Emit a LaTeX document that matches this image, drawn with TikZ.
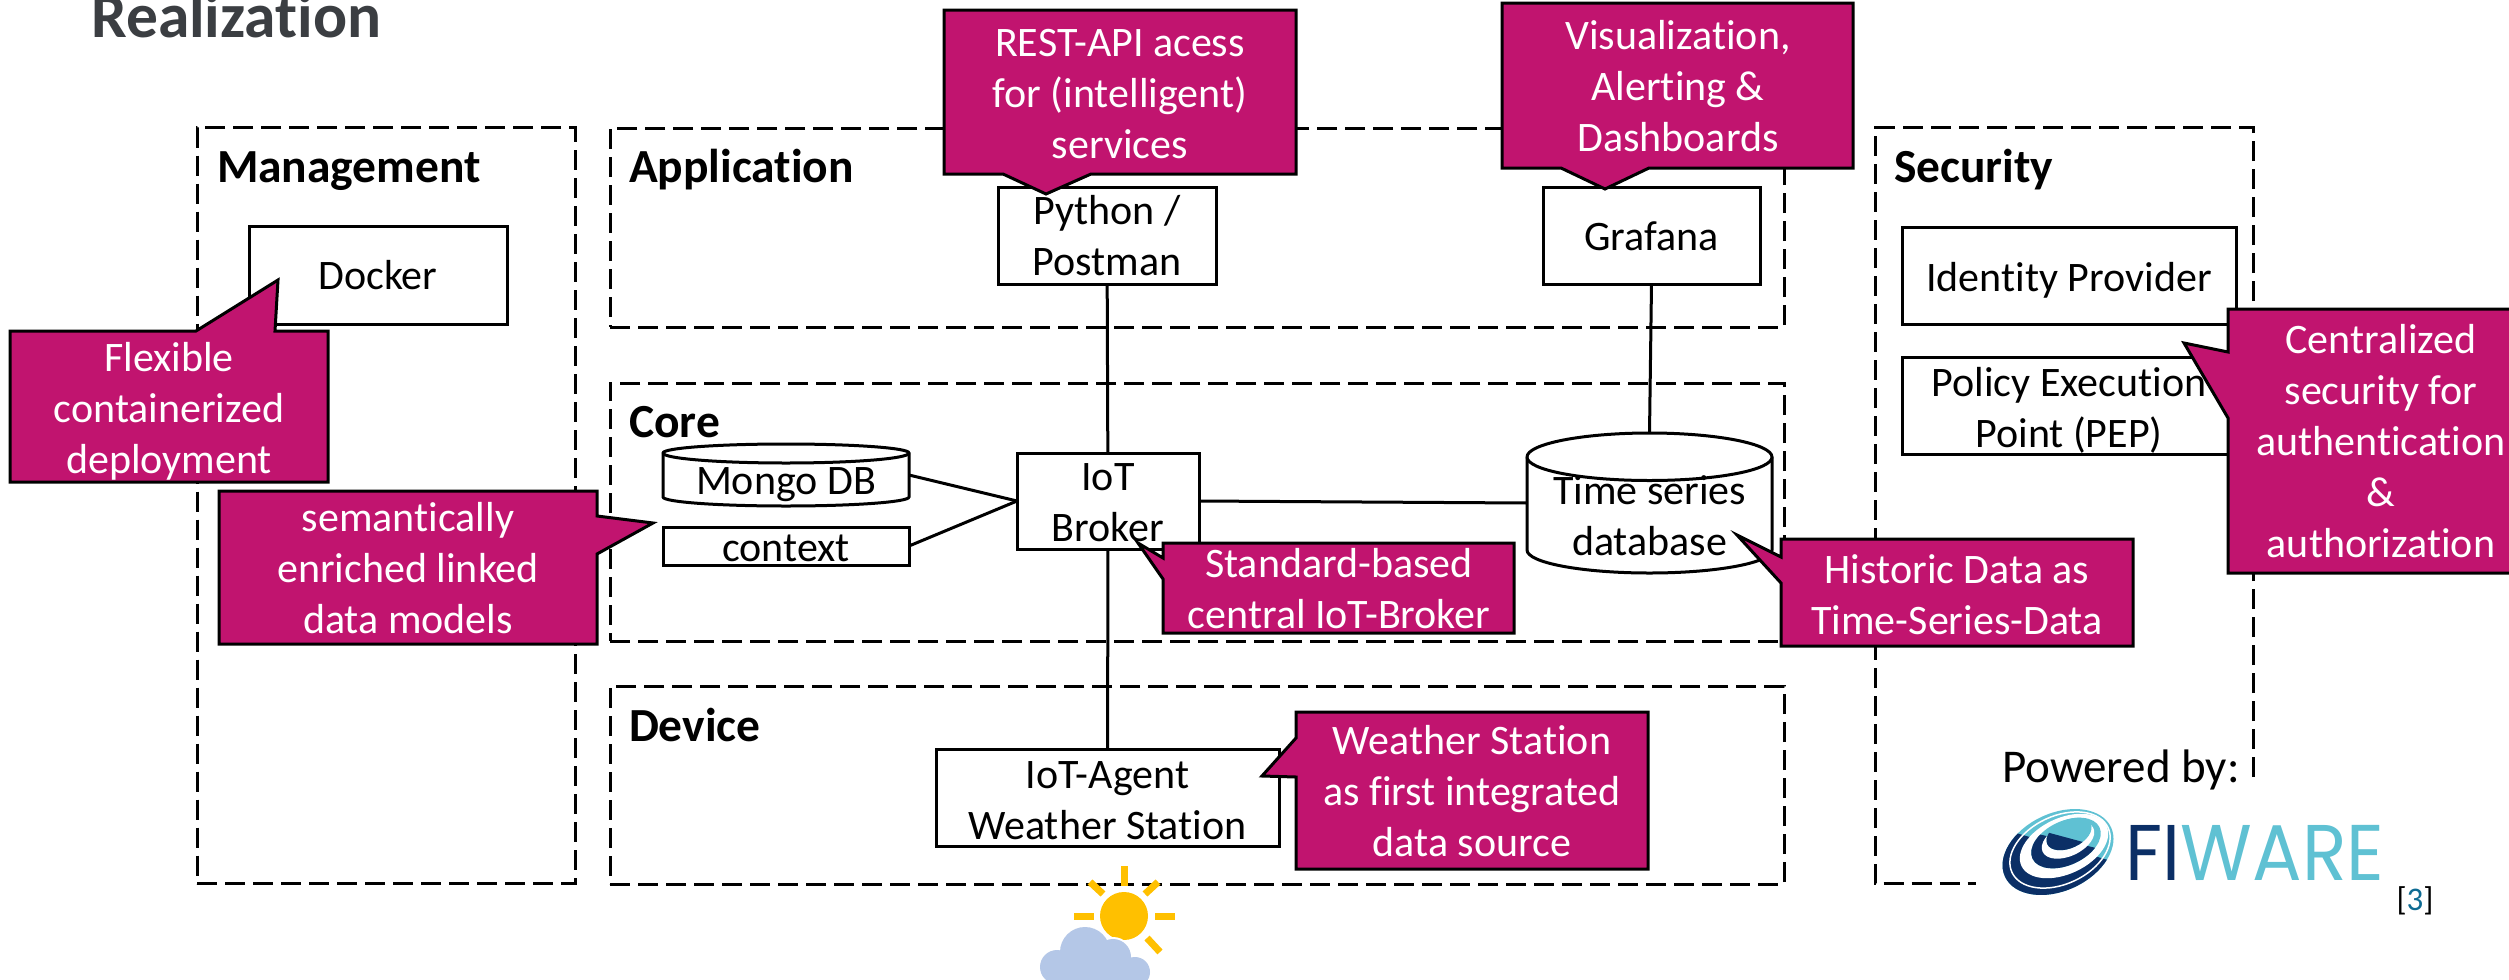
\documentclass[tikz,border=0pt]{standalone}
\usepackage{fontspec}
\setmainfont[Ligatures=NoCommon]{Carlito}
\newfontfamily\logofont{Poppins}
\definecolor{magent}{HTML}{C1146F}
\definecolor{titlegray}{HTML}{3B3E42}
\definecolor{logodark}{HTML}{0B2F66}
\definecolor{logolight}{HTML}{5FC1D3}
\definecolor{refblue}{HTML}{0E6B93}
\definecolor{sunyellow}{HTML}{FFC000}
\definecolor{cloudblue}{HTML}{B4C7E7}
\newcommand\bodyfont{\fontsize{42}{51}\selectfont}
% first argument: raise of the first baseline against the node centre
\newcommand\lines[2]{\raisebox{\dimexpr#1pt-1.2pt\relax}[0pt][0pt]{\begin{tabular}[t]{@{}c@{}}#2\end{tabular}}}
\tikzset{
  frame/.style={draw=black,line width=3pt,dash pattern=on 20pt off 8pt,inner sep=0pt,outer sep=0pt},
  framepath/.style={draw=black,line width=3pt,dash pattern=on 20pt off 8pt},
  boxnode/.style={draw=black,fill=white,line width=3pt,inner sep=0pt,outer sep=0pt,font=\bodyfont,text=black},
  plainnode/.style={inner sep=0pt,outer sep=0pt,font=\bodyfont,text=black},
  cylshape/.style={draw=black,fill=white,line width=3pt},
  link/.style={draw=black,line width=3pt},
  callout/.style={draw=black,fill=magent,line width=3pt,line join=miter},
  callouttext/.style={inner sep=0pt,outer sep=0pt,font=\bodyfont,text=white},
  heading/.style={anchor=base west,inner sep=0pt,outer sep=0pt,font=\fontsize{47.5}{52}\selectfont\bfseries,text=black},
  ray/.style={draw=sunyellow,line width=7pt}
}
\begin{document}
\begin{tikzpicture}[x=1pt,y=-1pt]
\useasboundingbox (0,0) rectangle (2509,980);
\node[anchor=base west,inner sep=0pt,font=\fontsize{63.5}{66}\selectfont\bfseries,text=titlegray] (title) at (91,37) {Realization};
% frames
\node[frame,minimum width=378pt,minimum height=756pt] (mgmt) at (386,505.5) {};
\node[frame,minimum width=1174pt,minimum height=199pt] (app) at (1197,227.5) {};
\node[frame,minimum width=1174pt,minimum height=258pt] (core) at (1197,512) {};
\node[frame,minimum width=1174pt,minimum height=198pt] (dev) at (1197,785) {};
\coordinate (secA) at (2253,777);
\coordinate (secB) at (1976,883.5);
\draw[framepath] (secA) -- (2253,127.5) -- (1875,127.5) -- (1875,883.5) -- (secB);
\node[heading] (hm) at (217,182) {Management};
\node[heading] (ha) at (629,182) {Application};
\node[heading] (hc) at (629,437) {Core};
\node[heading] (hd) at (629,741) {Device};
\node[heading] (hs) at (1894,182) {Security};
% weather icon
\draw[ray] (1124,866) -- (1124,886);
\draw[ray] (1074,916) -- (1094,916);
\draw[ray] (1155,916) -- (1175,916);
\draw[ray] (1090,882) -- (1103,894);
\draw[ray] (1158,882) -- (1145,894);
\draw[ray] (1147,938) -- (1160,952);
\fill[sunyellow] (1124,916) circle[radius=24pt];
\fill[white] (1085,952) circle[radius=27pt] (1057,967) circle[radius=19pt] (1113,957) circle[radius=20pt] (1135,972) circle[radius=17pt];
\fill[cloudblue] (1085,952) circle[radius=25pt] (1057,967) circle[radius=17pt] (1113,957) circle[radius=18pt] (1135,972) circle[radius=15pt] (1057,965) rectangle (1135,990);
% cylinders
\draw[cylshape] (663,453) -- (663,497) .. controls (663,502) and (718,506) .. (786,506) .. controls (854,506) and (909,502) .. (909,497) -- (909,453) .. controls (909,448) and (854,444) .. (786,444) .. controls (718,444) and (663,448) .. (663,453) -- cycle;
\draw[cylshape] (663,453) .. controls (663,458.5) and (718,463) .. (786,463) .. controls (854,463) and (909,458.5) .. (909,453);
\draw[cylshape] (1527,457) -- (1527,550) .. controls (1527,562.7) and (1581.8,573) .. (1649.5,573) .. controls (1717.2,573) and (1772,562.7) .. (1772,550) -- (1772,457) .. controls (1772,444) and (1717.2,433) .. (1649.5,433) .. controls (1581.8,433) and (1527,444) .. (1527,457) -- cycle;
\draw[cylshape] (1527,457) .. controls (1527,470) and (1581.8,480.5) .. (1649.5,480.5) .. controls (1717.2,480.5) and (1772,470) .. (1772,457);
\node[plainnode,minimum width=246pt,minimum height=62pt] (mongo) at (786,475) {\lines{-18}{Mongo DB}};
\node[plainnode,minimum width=245pt,minimum height=140pt] (tsdb) at (1649.5,503) {\lines{0}{Time series\\database}};
% boxes
\node[boxnode,minimum width=258pt,minimum height=98pt] (docker) at (378,275) {\lines{-13}{Docker}};
\node[boxnode,minimum width=218pt,minimum height=97pt] (python) at (1107,235.5) {\lines{12.5}{Python /\\Postman}};
\node[boxnode,minimum width=217pt,minimum height=97pt] (grafana) at (1651.5,235.5) {\lines{-13.5}{Grafana}};
\node[boxnode,minimum width=246pt,minimum height=38pt] (context) at (786,546) {\lines{-14}{context}};
\node[boxnode,minimum width=182pt,minimum height=96pt] (broker) at (1108,501) {\lines{12}{IoT\\Broker}};
\node[boxnode,minimum width=343pt,minimum height=97pt] (agent) at (1107.5,797.5) {\lines{10.5}{IoT-Agent\\Weather Station}};
\node[boxnode,minimum width=334pt,minimum height=97pt] (identity) at (2069,275.5) {\lines{-14.5}{Identity Provider}};
\node[boxnode,minimum width=334pt,minimum height=97pt] (pep) at (2069,405.5) {\lines{10.5}{Policy Execution\\Point (PEP)}};
% connectors
\draw[link] (python) -- (broker);
\draw[link] (broker) -- (agent);
\draw[link] (grafana.south) -- (tsdb.north);
\draw[link] (broker.east) -- (tsdb.west);
\draw[link] (mongo.east) -- (broker.west);
\draw[link] (context.east) -- (broker.west);
% callouts
\draw[callout] (944,10) -- (1296,10) -- (1296,174) -- (1091,174) -- (1046,194) -- (1003,174) -- (944,174) -- cycle;
\node[callouttext,minimum width=352pt] (c1) at (1120,92) {\lines{37}{REST-API acess\\for (intelligent)\\services}};
\draw[callout] (1502,3) -- (1853,3) -- (1853,168) -- (1649,168) -- (1605,189) -- (1561,168) -- (1502,168) -- cycle;
\node[callouttext,minimum width=351pt] (c2) at (1678,85.5) {\lines{37.5}{Visualization,\\Alerting \&\\Dashboards}};
\draw[callout] (10,331) -- (196,331) -- (278,280) -- (275,331) -- (328,331) -- (328,482) -- (10,482) -- cycle;
\node[callouttext,minimum width=318pt] (c3) at (169,406) {\lines{36}{Flexible\\containerized\\deployment}};
\draw[callout] (219,491) -- (597,491) -- (597,516) -- (653,523) -- (597,554) -- (597,644) -- (219,644) -- cycle;
\node[callouttext,minimum width=378pt] (c4) at (408,567) {\lines{37}{semantically\\enriched linked\\data models}};
\draw[callout] (1163,543) -- (1514,543) -- (1514,633) -- (1163,633) -- (1163,579) -- (1138,543) -- (1163,558) -- cycle;
\node[callouttext,minimum width=351pt] (c5) at (1339,588) {\lines{12}{Standard-based\\central IoT-Broker}};
\draw[callout] (1781,539) -- (2133,539) -- (2133,646) -- (1781,646) -- (1781,583) -- (1737,535) -- (1781,557) -- cycle;
\node[callouttext,minimum width=352pt] (c6) at (1957,592.5) {\lines{10.5}{Historic Data as\\Time-Series-Data}};
\draw[callout] (1296,712) -- (1648,712) -- (1648,869) -- (1296,869) -- (1296,777) -- (1262,776) -- (1296,738) -- cycle;
\node[callouttext,minimum width=352pt] (c7) at (1472,790.5) {\lines{37.5}{Weather Station\\as first integrated\\data source}};
\draw[callout] (2228,309) -- (2520,309) -- (2520,573) -- (2228,573) -- (2228,418) -- (2184,343) -- (2228,352) -- cycle;
\node[callouttext] (c8) at (2381,441) {\lines{89}{Centralized\\security for\\authentication\\\&\\authorization}};
% powered by and logo
\node[anchor=base,inner sep=0pt,font=\fontsize{47}{52}\selectfont,text=black] (powered) at (2121,782) {Powered by:};
\fill[logolight] (2058,852) [rotate around={25:(2058,852)}] ellipse[x radius=58.5pt,y radius=38.8pt];
\begin{scope}
\clip (1995,820) -- (2016,833) -- (2108,860) -- (2125,870) -- (2125,905) -- (1995,905) -- cycle;
\fill[logodark] (2058,852) [rotate around={25:(2058,852)}] ellipse[x radius=58.5pt,y radius=38.8pt];
\end{scope}
\draw[white,line width=1.5pt] (2060,850) [rotate around={25:(2060,850)}] ellipse[x radius=53pt,y radius=34pt];
\fill[white] (2064,846) [rotate around={25:(2064,846)}] ellipse[x radius=47pt,y radius=28pt];
\fill[logolight] (2066,843) [rotate around={25:(2066,843)}] ellipse[x radius=37pt,y radius=22pt];
\begin{scope}
\clip (2020,826) -- (2034,833) -- (2096,848) -- (2110,852) -- (2110,880) -- (2020,880) -- cycle;
\fill[logodark] (2066,843) [rotate around={25:(2066,843)}] ellipse[x radius=37pt,y radius=22pt];
\end{scope}
\fill[white] (2068,840) [rotate around={25:(2068,840)}] ellipse[x radius=28pt,y radius=16pt];
\fill[logolight] (2069,834) [rotate around={25:(2069,834)}] ellipse[x radius=24pt,y radius=14pt];
\begin{scope}
\clip (2040,830) -- (2046,832) -- (2083,842) -- (2100,846) -- (2100,860) -- (2040,860) -- cycle;
\fill[logodark] (2069,834) [rotate around={25:(2069,834)}] ellipse[x radius=24pt,y radius=14pt];
\end{scope}
\node[anchor=base,inner sep=0pt,font=\fontsize{79}{80}\selectfont\logofont] (logo) at (2255,880) {\scalebox{.93}[1]{\textcolor{logodark}{FI}\textcolor{logolight}{WARE}}};
\node[anchor=base,inner sep=0pt,font=\fontsize{33}{36}\selectfont,text=black] (ref) at (2415,910) {[\textcolor{refblue}{3}]};
\end{tikzpicture}
\end{document}
